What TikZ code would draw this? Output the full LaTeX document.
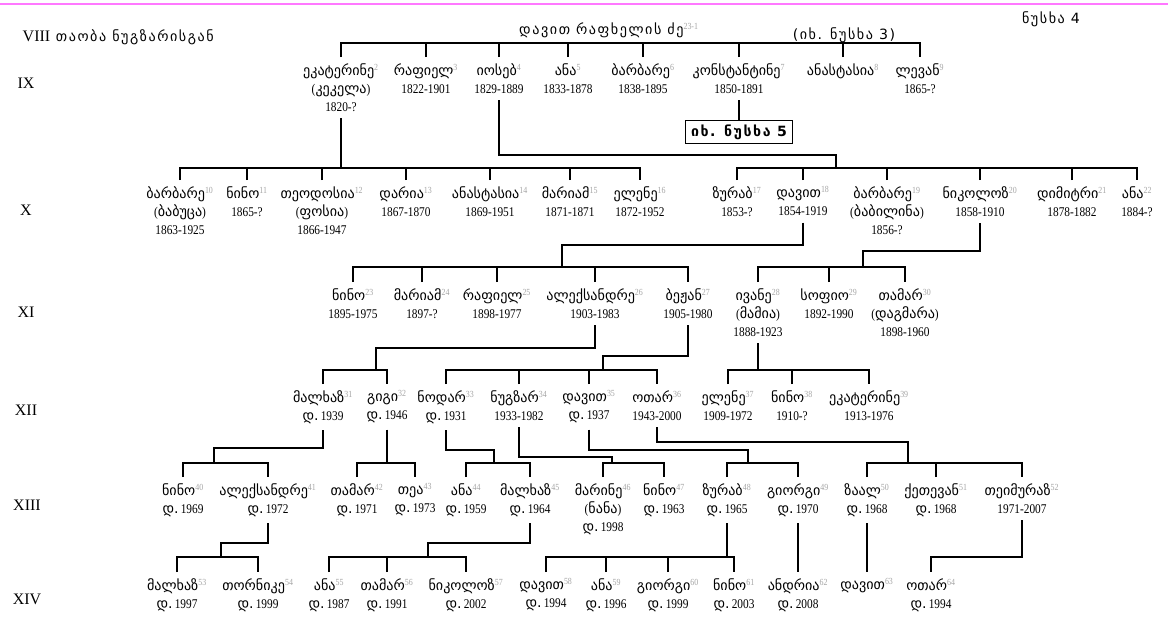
\documentclass[tikz,border=0pt]{standalone}
\usepackage{fontspec}
\setmainfont{Liberation Serif}[FakeStretch=0.85]
\newfontfamily\genfont{Liberation Serif}
\newfontfamily\kafont[Scale=1.06]{DejaVu Sans}
\newfontfamily\kawide[Scale=1.06,LetterSpace=11]{DejaVu Sans}

\definecolor{numgray}{RGB}{165,165,165}
\definecolor{pinkrule}{RGB}{255,120,255}

\newcommand\ka[1]{{\kafont #1}}
\newcommand\nm[2]{{\kafont #1}\textsuperscript{\textcolor{numgray}{#2}}}
\newcommand\bd[1]{{\kafont დ.}\,#1}

\tikzset{
  pers/.style={anchor=north,align=center,inner sep=2pt,outer ysep=3pt,font=\fontsize{10}{13.5}\selectfont},
  link/.style={line width=0.8pt},
  gen/.style={font=\genfont\fontsize{12}{14}\selectfont},
  hdr/.style={font=\fontsize{10}{13}\selectfont},
}

\begin{document}
\begin{tikzpicture}[x=0.75pt,y=0.75pt,yscale=-1,xscale=1]
\useasboundingbox (0,0) rectangle (1168,619);
\fill[white] (0,0) rectangle (1168,619);

%Rule at the top
\draw[pinkrule,line width=0.8pt] (0,4) -- (1168,4);

% Header Nodes
\node[hdr,anchor=west] (title) at (18,37) {{\genfont\fontsize{12}{14}\selectfont VIII}\ \ {\kawide თაობა ნუგზარისგან}};
\node[hdr] (root) at (609,30) {{\kawide დავით რაფხელის ძე}\textsuperscript{\textcolor{numgray}{23-1}}};
\node[hdr] (see3) at (844,35) {\kawide (იხ. ნუსხა 3)};
\node[hdr] (list4) at (1051,19) {\kawide ნუსხა 4};

% Generation Nodes
\node[gen] (g9) at (26,83) {IX};
\node[gen] (g10) at (26,210) {X};
\node[gen] (g11) at (26,312) {XI};
\node[gen] (g12) at (26,410) {XII};
\node[gen] (g13) at (27,505) {XIII};
\node[gen] (g14) at (27,599) {XIV};

% IX
\node[pers] (p2) at (341,57) {\nm{ეკატერინე}{2}\\(\ka{კეკელა})\\1820-?};
\node[pers] (p3) at (426,57) {\nm{რაფიელ}{3}\\1822-1901};
\node[pers] (p4) at (499,57) {\nm{იოსებ}{4}\\1829-1889};
\node[pers] (p5) at (568,57) {\nm{ანა}{5}\\1833-1878};
\node[pers] (p6) at (643,57) {\nm{ბარბარე}{6}\\1838-1895};
\node[pers] (p7) at (739,57) {\nm{კონსტანტინე}{7}\\1850-1891};
\node[pers] (p8) at (843,57) {\nm{ანასტასია}{8}};
\node[pers] (p9) at (920,57) {\nm{ლევან}{9}\\1865-?};
\node[draw,line width=0.8pt,inner xsep=4pt,inner ysep=3pt,font=\fontsize{10}{13}\selectfont\bfseries] (see5) at (739,132) {\kawide იხ. ნუსხა 5};

% X
\node[pers] (p10) at (180,180) {\nm{ბარბარე}{10}\\(\ka{ბაბუცა})\\1863-1925};
\node[pers] (p11) at (247,180) {\nm{ნინო}{11}\\1865-?};
\node[pers] (p12) at (322,180) {\nm{თეოდოსია}{12}\\(\ka{ფოსია})\\1866-1947};
\node[pers] (p13) at (406,180) {\nm{დარია}{13}\\1867-1870};
\node[pers] (p14) at (490,180) {\nm{ანასტასია}{14}\\1869-1951};
\node[pers] (p15) at (570,180) {\nm{მარიამ}{15}\\1871-1871};
\node[pers] (p16) at (640,180) {\nm{ელენე}{16}\\1872-1952};
\node[pers] (p17) at (737,180) {\nm{ზურაბ}{17}\\1853-?};
\node[pers] (p18) at (803,180) {\nm{დავით}{18}\\1854-1919};
\node[pers] (p19) at (887,180) {\nm{ბარბარე}{19}\\(\ka{ბაბილინა})\\1856-?};
\node[pers] (p20) at (980,180) {\nm{ნიკოლოზ}{20}\\1858-1910};
\node[pers] (p21) at (1072,180) {\nm{დიმიტრი}{21}\\1878-1882};
\node[pers] (p22) at (1137,180) {\nm{ანა}{22}\\1884-?};

% XI
\node[pers] (p23) at (353,282) {\nm{ნინო}{23}\\1895-1975};
\node[pers] (p24) at (422,282) {\nm{მარიამ}{24}\\1897-?};
\node[pers] (p25) at (497,282) {\nm{რაფიელ}{25}\\1898-1977};
\node[pers] (p26) at (595,282) {\nm{ალექსანდრე}{26}\\1903-1983};
\node[pers] (p27) at (688,282) {\nm{ბეჟან}{27}\\1905-1980};
\node[pers] (p28) at (758,282) {\nm{ივანე}{28}\\(\ka{მამია})\\1888-1923};
\node[pers] (p29) at (829,282) {\nm{სოფიო}{29}\\1892-1990};
\node[pers] (p30) at (905,282) {\nm{თამარ}{30}\\(\ka{დაგმარა})\\1898-1960};

% XII
\node[pers] (p31) at (323,384) {\nm{მალხაზ}{31}\\\bd{1939}};
\node[pers] (p32) at (387,384) {\nm{გიგი}{32}\\\bd{1946}};
\node[pers] (p33) at (446,384) {\nm{ნოდარ}{33}\\\bd{1931}};
\node[pers] (p34) at (519,384) {\nm{ნუგზარ}{34}\\1933-1982};
\node[pers] (p35) at (589,384) {\nm{დავით}{35}\\\bd{1937}};
\node[pers] (p36) at (657,384) {\nm{ოთარ}{36}\\1943-2000};
\node[pers] (p37) at (728,384) {\nm{ელენე}{37}\\1909-1972};
\node[pers] (p38) at (792,384) {\nm{ნინო}{38}\\1910-?};
\node[pers] (p39) at (869,384) {\nm{ეკატერინე}{39}\\1913-1976};

% XIII
\node[pers] (p40) at (183,477) {\nm{ნინო}{40}\\\bd{1969}};
\node[pers] (p41) at (268,477) {\nm{ალექსანდრე}{41}\\\bd{1972}};
\node[pers] (p42) at (357,477) {\nm{თამარ}{42}\\\bd{1971}};
\node[pers] (p43) at (415,477) {\nm{თეა}{43}\\\bd{1973}};
\node[pers] (p44) at (466,477) {\nm{ანა}{44}\\\bd{1959}};
\node[pers] (p45) at (530,477) {\nm{მალხაზ}{45}\\\bd{1964}};
\node[pers] (p46) at (603,477) {\nm{მარინე}{46}\\(\ka{ნანა})\\\bd{1998}};
\node[pers] (p47) at (664,477) {\nm{ნინო}{47}\\\bd{1963}};
\node[pers] (p48) at (727,477) {\nm{ზურაბ}{48}\\\bd{1965}};
\node[pers] (p49) at (798,477) {\nm{გიორგი}{49}\\\bd{1970}};
\node[pers] (p50) at (867,477) {\nm{ზაალ}{50}\\\bd{1968}};
\node[pers] (p51) at (936,477) {\nm{ქეთევან}{51}\\\bd{1968}};
\node[pers] (p52) at (1022,477) {\nm{თეიმურაზ}{52}\\1971-2007};

% XIV
\node[pers] (p53) at (177,572) {\nm{მალხაზ}{53}\\\bd{1997}};
\node[pers] (p54) at (258,572) {\nm{თორნიკე}{54}\\\bd{1999}};
\node[pers] (p55) at (329,572) {\nm{ანა}{55}\\\bd{1987}};
\node[pers] (p56) at (387,572) {\nm{თამარ}{56}\\\bd{1991}};
\node[pers] (p57) at (466,572) {\nm{ნიკოლოზ}{57}\\\bd{2002}};
\node[pers] (p58) at (546,572) {\nm{დავით}{58}\\\bd{1994}};
\node[pers] (p59) at (606,572) {\nm{ანა}{59}\\\bd{1996}};
\node[pers] (p60) at (668,572) {\nm{გიორგი}{60}\\\bd{1999}};
\node[pers] (p61) at (734,572) {\nm{ნინო}{61}\\\bd{2003}};
\node[pers] (p62) at (798,572) {\nm{ანდრია}{62}\\\bd{2008}};
\node[pers] (p63) at (867,572) {\nm{დავით}{63}};
\node[pers] (p64) at (931,572) {\nm{ოთარ}{64}\\\bd{1994}};

% Elbow points
\coordinate (k4) at (836,155);
\coordinate (k18) at (562,245);
\coordinate (k20) at (863,251);
\coordinate (k26) at (376,348);
\coordinate (k27) at (603,356);
\coordinate (k31) at (214,448);
\coordinate (k33) at (494,450);
\coordinate (k34) at (612,457);
\coordinate (k35) at (748,450);
\coordinate (k36) at (908,442);
\coordinate (k41) at (221,543);
\coordinate (k45) at (428,543);

% Connectors: root -> IX
\draw[link] (p2.north) |- (p9.north |- 0,43) -- (p9.north);
\draw[link] (p3.north) -- (p3.north |- 0,43);
\draw[link] (p4.north) -- (p4.north |- 0,43);
\draw[link] (p5.north) -- (p5.north |- 0,43);
\draw[link] (p6.north) -- (p6.north |- 0,43);
\draw[link] (p7.north) -- (p7.north |- 0,43);
\draw[link] (p8.north) -- (p8.north |- 0,43);
\fill (p8.north |- 0,43) circle (1.3pt);
\draw[link] (p7.south) -- (see5.north);

% Connectors: IX -> X
\draw[link] (p2.south) -- (p2.south |- 0,168);
\draw[link] (p10.north) |- (p16.north |- 0,168) -- (p16.north);
\draw[link] (p11.north) -- (p11.north |- 0,168);
\draw[link] (p12.north) -- (p12.north |- 0,168);
\draw[link] (p13.north) -- (p13.north |- 0,168);
\draw[link] (p14.north) -- (p14.north |- 0,168);
\draw[link] (p15.north) -- (p15.north |- 0,168);
\draw[link] (p4.south) |- (k4) -- (k4 |- 0,168);
\draw[link] (p17.north) |- (p22.north |- 0,168) -- (p22.north);
\draw[link] (p18.north) -- (p18.north |- 0,168);
\draw[link] (p19.north) -- (p19.north |- 0,168);
\draw[link] (p20.north) -- (p20.north |- 0,168);
\draw[link] (p21.north) -- (p21.north |- 0,168);

% Connectors: X -> XI
\draw[link] (p18.south) |- (k18) -- (k18 |- 0,267);
\draw[link] (p23.north) |- (p27.north |- 0,267) -- (p27.north);
\draw[link] (p24.north) -- (p24.north |- 0,267);
\draw[link] (p25.north) -- (p25.north |- 0,267);
\draw[link] (p26.north) -- (p26.north |- 0,267);
\draw[link] (p20.south) |- (k20) -- (k20 |- 0,267);
\draw[link] (p28.north) |- (p30.north |- 0,267) -- (p30.north);
\draw[link] (p29.north) -- (p29.north |- 0,267);

% Connectors: XI -> XII
\draw[link] (p26.south) |- (k26) -- (k26 |- 0,370);
\draw[link] (p31.north) |- (p32.north |- 0,370) -- (p32.north);
\draw[link] (p27.south) |- (k27) -- (k27 |- 0,370);
\draw[link] (p33.north) |- (p36.north |- 0,370) -- (p36.north);
\draw[link] (p34.north) -- (p34.north |- 0,370);
\draw[link] (p35.north) -- (p35.north |- 0,370);
\draw[link] (p28.south) -- (p28.south |- 0,370);
\draw[link] (p37.north) |- (p39.north |- 0,370) -- (p39.north);
\draw[link] (p38.north) -- (p38.north |- 0,370);

% Connectors: XII -> XIII
\draw[link] (p31.south) |- (k31) -- (k31 |- 0,463);
\draw[link] (p40.north) |- (p41.north |- 0,463) -- (p41.north);
\draw[link] (p32.south) -- (p32.south |- 0,463);
\draw[link] (p42.north) |- (p43.north |- 0,463) -- (p43.north);
\draw[link] (p33.south) |- (k33) -- (k33 |- 0,463);
\draw[link] (p44.north) |- (p45.north |- 0,463) -- (p45.north);
\draw[link] (p34.south) |- (k34) -- (k34 |- 0,463);
\draw[link] (p46.north) |- (p47.north |- 0,463) -- (p47.north);
\draw[link] (p35.south) |- (k35) -- (k35 |- 0,463);
\draw[link] (p48.north) |- (p49.north |- 0,463) -- (p49.north);
\draw[link] (p36.south) |- (k36) -- (k36 |- 0,463);
\draw[link] (p50.north) |- (p52.north |- 0,463) -- (p52.north);
\draw[link] (p51.north) -- (p51.north |- 0,463);

% Connectors: XIII -> XIV
\draw[link] (p41.south) |- (k41) -- (k41 |- 0,557);
\draw[link] (p53.north) |- (p54.north |- 0,557) -- (p54.north);
\draw[link] (p45.south) |- (k45) -- (k45 |- 0,557);
\draw[link] (p55.north) |- (p57.north |- 0,557) -- (p57.north);
\draw[link] (p56.north) -- (p56.north |- 0,557);
\draw[link] (p48.south) -- (p48.south |- 0,557);
\draw[link] (p58.north) |- (p61.north |- 0,557) -- (p61.north);
\draw[link] (p59.north) -- (p59.north |- 0,557);
\draw[link] (p60.north) -- (p60.north |- 0,557);
\draw[link] (p49.south) -- (p62.north);
\draw[link] (p50.south) -- (p63.north);
\draw[link] (p52.south) |- (p64.north |- 0,557) -- (p64.north);

\end{tikzpicture}
\end{document}
